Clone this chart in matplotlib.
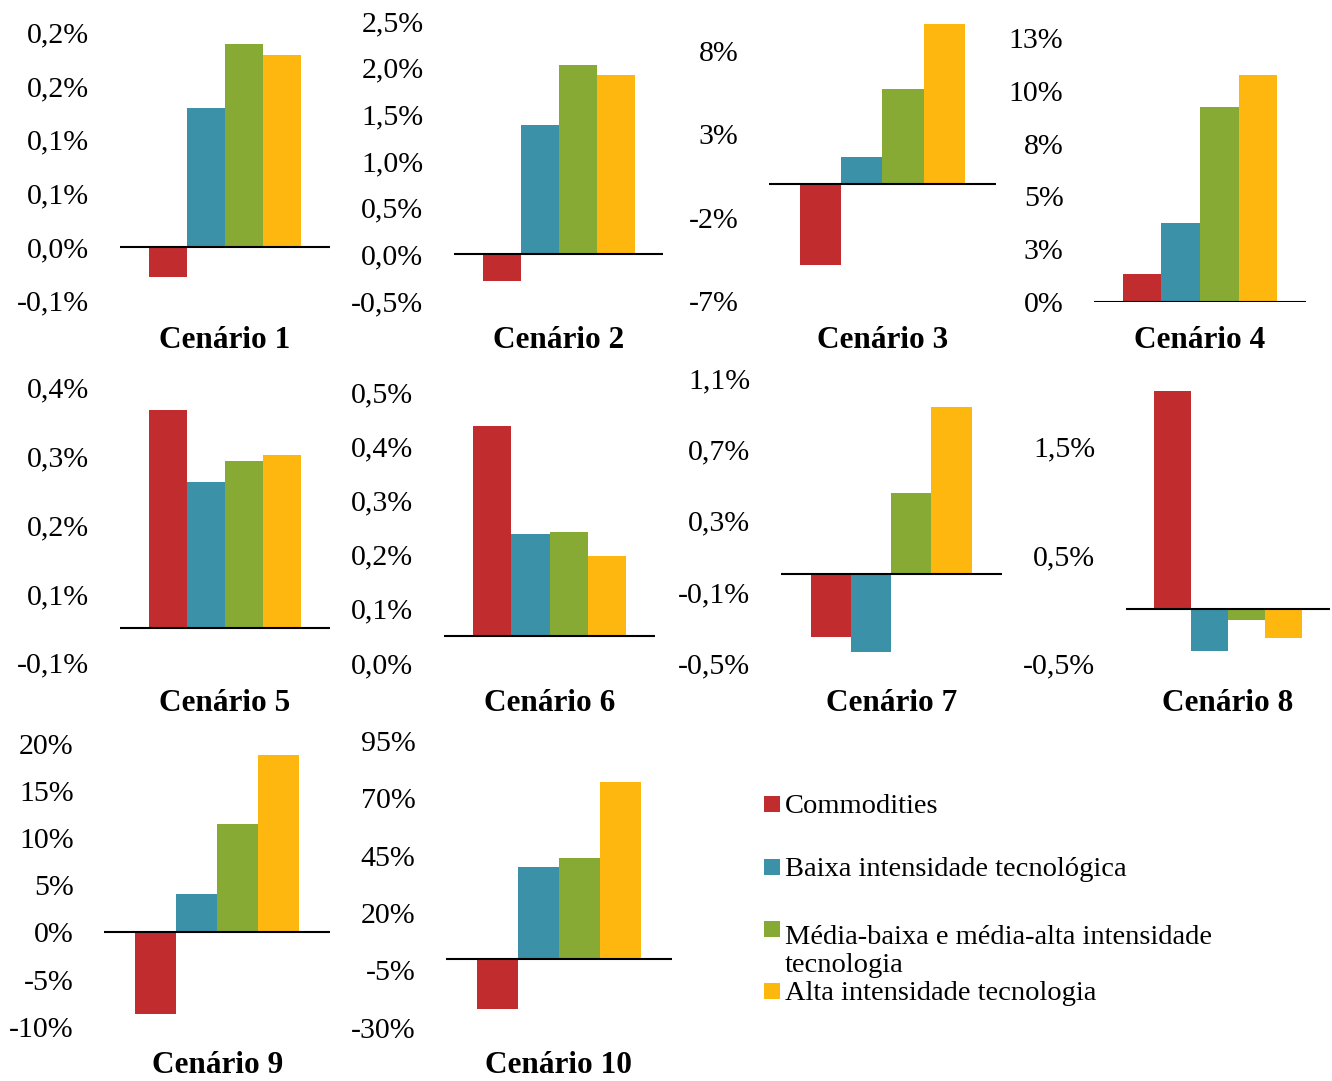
import numpy as np
import matplotlib
matplotlib.use("Agg")
import matplotlib.pyplot as plt
from matplotlib.patches import Rectangle

plt.rcParams['font.family'] = ['Liberation Serif', 'DejaVu Serif']

# ---- data -------------------------------------------------------------
categories = [
    'Commodities',
    'Baixa intensidade tecnológica',
    'Média-baixa e média-alta intensidade\ntecnologia',
    'Alta intensidade tecnologia',
]
colors = ['#C12C2F', '#3A91A8', '#87AA35', '#FEB70E']

scenarios = ['Cenário 1', 'Cenário 2', 'Cenário 3', 'Cenário 4', 'Cenário 5',
             'Cenário 6', 'Cenário 7', 'Cenário 8', 'Cenário 9', 'Cenário 10']

# variation (%) per category, one list per scenario
c1 = [-0.028, 0.130, 0.189, 0.179]
c2 = [-0.286, 1.386, 2.029, 1.922]
c3 = [-4.84, 1.66, 5.72, 9.62]
c4 = [1.31, 3.75, 9.24, 10.76]
c5 = [0.318, 0.2135, 0.244, 0.2525]
c6 = [0.387, 0.188, 0.1915, 0.147]
c7 = [-0.351, -0.439, 0.456, 0.938]
c8 = [2.006, -0.380, -0.098, -0.261]
c9 = [-8.65, 4.06, 11.47, 18.81]
c10 = [-21.8, 40.0, 43.9, 77.1]
values = [c1, c2, c3, c4, c5, c6, c7, c8, c9, c10]

# y-axis ticks and their printed labels (one decimal, comma separator)
ticks = [
    [-0.05, 0, 0.05, 0.10, 0.15, 0.20],
    [-0.5, 0, 0.5, 1.0, 1.5, 2.0, 2.5],
    [-7, -2, 3, 8],
    [0, 2.5, 5, 7.5, 10, 12.5],
    [-0.05, 0.05, 0.15, 0.25, 0.35],
    [-0.05, 0.05, 0.15, 0.25, 0.35, 0.45],
    [-0.5, -0.1, 0.3, 0.7, 1.1],
    [-0.5, 0.5, 1.5],
    [-10, -5, 0, 5, 10, 15, 20],
    [-30, -5, 20, 45, 70, 95],
]
tick_labels = [
    ['-0,1%', '0,0%', '0,1%', '0,1%', '0,2%', '0,2%'],
    ['-0,5%', '0,0%', '0,5%', '1,0%', '1,5%', '2,0%', '2,5%'],
    ['-7%', '-2%', '3%', '8%'],
    ['0%', '3%', '5%', '8%', '10%', '13%'],
    ['-0,1%', '0,1%', '0,2%', '0,3%', '0,4%'],
    ['0,0%', '0,1%', '0,2%', '0,3%', '0,4%', '0,5%'],
    ['-0,5%', '-0,1%', '0,3%', '0,7%', '1,1%'],
    ['-0,5%', '0,5%', '1,5%'],
    ['-10%', '-5%', '0%', '5%', '10%', '15%', '20%'],
    ['-30%', '-5%', '20%', '45%', '70%', '95%'],
]
ylims = [(-0.05, 0.20), (-0.5, 2.5), (-7, 10), (0, 12.5), (-0.05, 0.35),
         (-0.05, 0.45), (-0.5, 1.1), (-0.5, 2.1), (-10, 20), (-30, 95)]

# ---- layout (pixel boxes: left, right, top, bottom) ---------------------
W, H = 1332, 1081
boxes = [
    (120, 330, 32.5, 300.5),
    (454, 663, 21, 301),
    (769, 996, 17.6, 301),
    (1094, 1306, 38.4, 301.7),
    (120, 330, 387.7, 662.8),
    (444, 655, 392, 663),
    (780.7, 1001.7, 378.7, 663),
    (1126, 1330, 380.8, 663.7),
    (104.3, 330, 743.5, 1026.7),
    (446, 671.7, 740.9, 1027.5),
]
title_baselines = [348, 348, 348, 348, 711, 711, 711, 711, 1073, 1073]


def fx(x):
    return x / W


def fy(y):
    return 1 - y / H


fig = plt.figure(figsize=(W / 100, H / 100), dpi=100)

x = np.arange(len(categories))
for i, vals in enumerate(values):
    L, R, T, B = boxes[i]
    ax = fig.add_axes([fx(L), fy(B), (R - L) / W, (B - T) / H])
    ax.bar(x, vals, width=1.0, color=colors, linewidth=0)
    ax.set_xlim(-1.25, 4.25)
    ax.set_ylim(*ylims[i])
    ax.axhline(0, color='black', lw=1.5, zorder=3)
    ax.set_yticks(ticks[i])
    ax.set_yticklabels(tick_labels[i])
    ax.set_xticks([])
    ax.tick_params(axis='y', length=0, pad=22, labelsize=21.5)
    for s in ax.spines.values():
        s.set_visible(False)
    ax.patch.set_alpha(0)
    fig.text(fx((L + R) / 2), fy(title_baselines[i]), scenarios[i],
             ha='center', va='baseline', fontsize=22.5, fontweight='bold')

# ---- legend -------------------------------------------------------------
leg_baselines = [813, 876, 938, 1000]
line_step = 33.5
for lab, col, yb in zip(categories, colors, leg_baselines):
    fig.add_artist(Rectangle((fx(764), fy(yb - 1)), 16 / W, 16 / H,
                             transform=fig.transFigure, color=col, lw=0))
    n_extra = lab.count('\n')
    fig.text(fx(785), fy(yb + n_extra * line_step), lab, ha='left',
             va='baseline', fontsize=20.5, linespacing=1.15)

fig.savefig('out.png', dpi=100)
